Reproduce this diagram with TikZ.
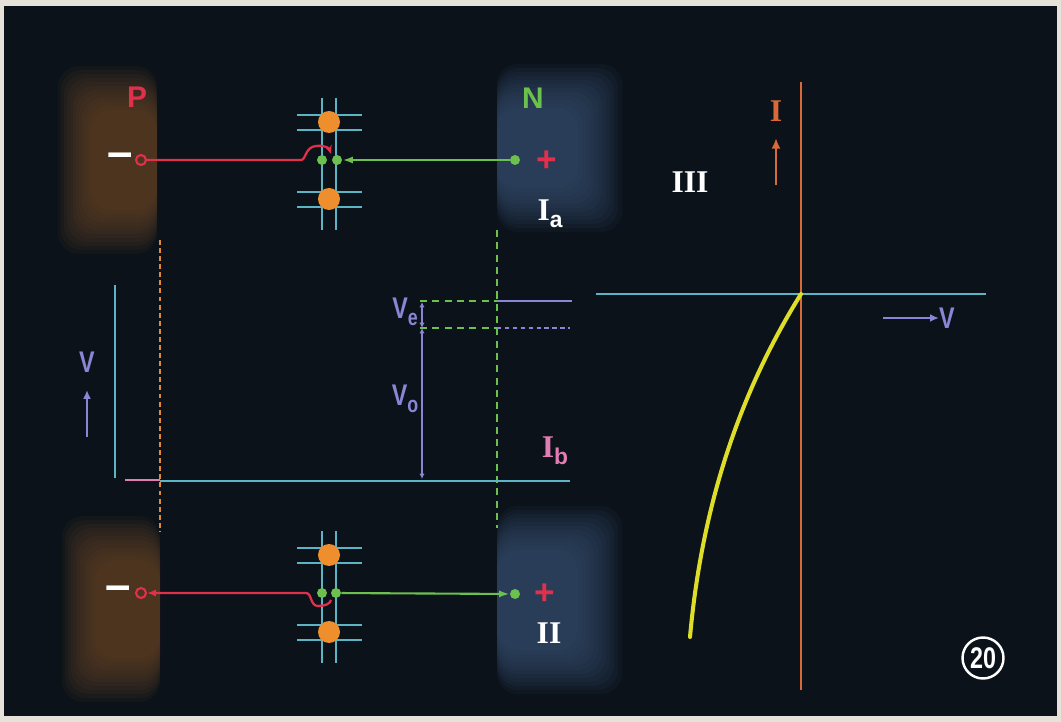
\documentclass[tikz,border=0pt]{standalone}
\usepackage{fontspec}
\setsansfont{Liberation Sans}
\setmainfont{Liberation Serif}
\usetikzlibrary{arrows.meta}

\definecolor{bg}{HTML}{0B1219}
\definecolor{framec}{HTML}{E6E2DA}
\definecolor{pglow}{HTML}{6A4628}
\definecolor{nglow}{HTML}{3A5274}
\definecolor{bondc}{HTML}{5CB4C4}
\definecolor{atomc}{HTML}{EE8E2C}
\definecolor{elecc}{HTML}{6CC04E}
\definecolor{wirec}{HTML}{E0304C}
\definecolor{lav}{HTML}{8C84D4}
\definecolor{pinkc}{HTML}{E27CB4}
\definecolor{curvec}{HTML}{DEDE2A}
\definecolor{iaxis}{HTML}{D86A3A}
\definecolor{dashor}{HTML}{E08A3A}

\newcommand{\lowidx}[1]{\raisebox{-0.45ex}{\fontsize{13}{13}\selectfont #1}}
\newcommand{\narrowtxt}[1]{\scalebox{0.78}[1]{#1}}

\begin{document}
\begin{tikzpicture}[x=0.02cm,y=-0.02cm,
    bondline/.style={bondc, line width=1.1pt},
    atom/.style={circle, fill=atomc, inner sep=0pt, minimum size=0.44cm},
    elec/.style={circle, fill=elecc, inner sep=0pt, minimum size=0.2cm},
    elecline/.style={elecc, line width=1.2pt},
    wireline/.style={wirec, line width=1.3pt},
    ring/.style={circle, draw=wirec, line width=1.2pt, inner sep=0pt, minimum size=0.2cm},
    lbl/.style={font=\sffamily\bfseries\fontsize{17}{17}\selectfont, inner sep=0pt},
    roman/.style={font=\rmfamily\bfseries\fontsize{18}{18}\selectfont, inner sep=0pt},
    minus/.style={font=\sffamily\bfseries\fontsize{26}{26}\selectfont, inner sep=0pt, white},
  ]
  \useasboundingbox (0,0) rectangle (1061,722);
  \fill[framec] (0,0) rectangle (1061,722);
  \fill[bg] (4,6) rectangle (1057,716);

  % P and N regions, soft edged
  \foreach \k in {0,...,11} {
    \fill[pglow, opacity=0.1, rounded corners=12pt] (58+3*\k,66+4*\k) rectangle (157,254-4*\k);
    \fill[pglow, opacity=0.1, rounded corners=12pt] (62+3*\k,516+4*\k) rectangle (160,702-4*\k);
    \fill[nglow, opacity=0.1, rounded corners=12pt] (497,64+4*\k) rectangle (622-4*\k,232-4*\k);
    \fill[nglow, opacity=0.1, rounded corners=12pt] (497,506+4*\k) rectangle (622-4*\k,694-4*\k);
  }

  % crystal lattice, top and bottom
  \foreach \c in {160,593} {
    \draw[bondline] (322,\c-62) -- (322,\c+70);
    \draw[bondline] (336,\c-62) -- (336,\c+70);
    \foreach \d in {-45,-30,32,47}
      \draw[bondline] (297,\c+\d) -- (362,\c+\d);
    \node[atom] (up\c) at (329,\c-38) {};
    \node[atom] (dn\c) at (329,\c+39) {};
  }

  % top: forward
  \node[lbl, wirec] (P) at (137,97) {P};
  \node[lbl, elecc] (N) at (533,98) {N};
  \node[minus] (mina) at (120,160) {--};
  \node[ring] (pa) at (141,160) {};
  \node[elec] (ea1) at (322,160) {};
  \node[elec] (ea2) at (337,160) {};
  \node[elec] (na) at (515,160) {};
  \node[lbl, wirec, font=\sffamily\bfseries\fontsize{20}{20}\selectfont] (plusa) at (547,161) {+};
  \node[roman, white] (Ia) at (550,214) {I\lowidx{\sffamily a}};
  \draw[elecline, -{Latex[length=6pt,width=4pt]}] (na) -- (ea2);
  \draw[wireline, -{Stealth[length=5pt,width=4pt]}] (pa) -- (301,160)
    .. controls (306,160) and (305,147) .. (316,146)
    .. controls (324,145) and (329,148) .. (331,154);

  % bottom: reverse
  \node[minus] (minb) at (118,593) {--};
  \node[ring] (pb) at (141,593) {};
  \node[elec] (eb1) at (322,593) {};
  \node[elec] (eb2) at (336,593) {};
  \node[elec] (nb) at (515,594) {};
  \node[lbl, wirec, font=\sffamily\bfseries\fontsize{20}{20}\selectfont] (plusb) at (545,594) {+};
  \node[roman, white] (II) at (549,633) {II};
  \draw[elecline, -{Latex[length=6pt,width=4pt]}] (eb2) -- (nb);
  \draw[wireline, {Latex[length=5pt,width=4pt]}-] (pb) -- (306,593)
    .. controls (312,593) and (310,606) .. (318,606)
    .. controls (325,606) and (330,604) .. (331,600);

  % junction borders
  \draw[dashor, line width=1.2pt, dash pattern=on 2.8pt off 1.8pt] (160,240) -- (160,532);
  \draw[elecc, line width=1pt, dash pattern=on 4pt off 3pt] (497,230) -- (497,528);

  % potential diagram
  \draw[bondc, line width=1pt] (115,285) -- (115,478);
  \draw[pinkc, line width=1.4pt] (125,480) -- (160,480);
  \draw[bondc, line width=1.2pt] (160,481) -- (570,481);
  \node[lbl, lav] (Vl) at (87,362) {\narrowtxt{V}};
  \coordinate (vt) at (87,390);
  \coordinate (vb) at (87,437);
  \draw[lav, line width=1.4pt, -{Latex[length=5pt,width=4.5pt]}] (vb) -- (vt);

  \draw[elecc, line width=1pt, dash pattern=on 4pt off 3pt] (420,301) -- (497,301);
  \draw[lav, line width=1.3pt] (497,301) -- (572,301);
  \draw[elecc, line width=1pt, dash pattern=on 4pt off 3pt] (420,328) -- (497,328);
  \draw[lav, line width=1pt, dash pattern=on 2.5pt off 2pt] (497,328) -- (570,328);
  \coordinate (e1) at (422,302);
  \coordinate (e2) at (422,328);
  \coordinate (e3) at (422,479);
  \draw[lav, line width=0.9pt, {Latex[length=3pt,width=3pt]}-{Latex[length=3pt,width=3pt]}] (e1) -- (e2);
  \draw[lav, line width=0.9pt, {Latex[length=3pt,width=3pt]}-{Latex[length=3pt,width=3pt]}] (e2) -- (e3);
  \node[lbl, lav] (Ve) at (405,312) {\narrowtxt{V\lowidx{e}}};
  \node[lbl, lav] (Vo) at (405,399) {\narrowtxt{V\lowidx{o}}};
  \node[roman, pinkc] (Ib) at (555,451) {I\lowidx{\sffamily b}};

  % current-voltage characteristic
  \draw[iaxis, line width=1.3pt] (801,82) -- (801,690);
  \draw[bondc, line width=1.2pt] (596,294) -- (986,294);
  \node[roman, iaxis] (Il) at (776,111) {I};
  \coordinate (it) at (776,138);
  \coordinate (ib) at (776,185);
  \draw[iaxis, line width=1.6pt, -{Latex[length=6pt,width=5pt]}] (ib) -- (it);
  \node[roman, white] (III) at (690,182) {III};
  \node[lbl, lav] (Vr) at (947,318) {\narrowtxt{V}};
  \coordinate (vrs) at (883,318);
  \draw[lav, line width=1.4pt, -{Latex[length=5pt,width=4.5pt]}] (vrs) -- (Vr.west);
  \draw[curvec, line width=2.3pt, line cap=round] (801,294)
    .. controls (760,360) and (705,470) .. (690,637);

  \node[circle, draw=white, line width=1.4pt, minimum size=0.82cm, inner sep=0pt,
    text=white, font=\sffamily\bfseries\fontsize{17}{17}\selectfont] (num) at (983,658) {\narrowtxt{20}};
\end{tikzpicture}
\end{document}
